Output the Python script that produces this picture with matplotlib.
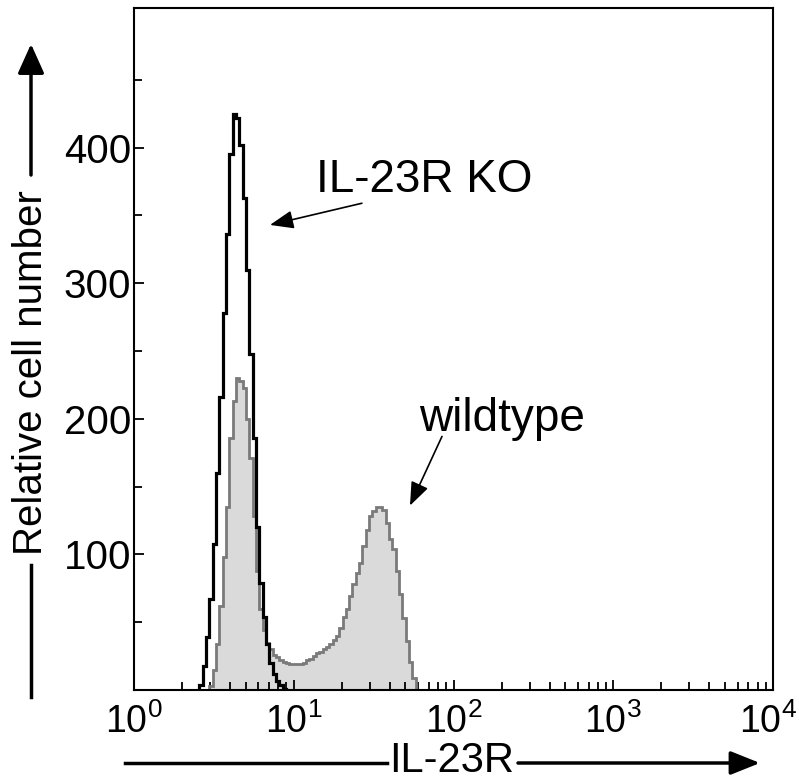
import numpy as np
import matplotlib
matplotlib.use("Agg")
import matplotlib.pyplot as plt
from matplotlib.ticker import FixedLocator, LogLocator, NullFormatter, FixedFormatter
from matplotlib.patches import FancyArrowPatch
from matplotlib.lines import Line2D
from matplotlib.transforms import ScaledTranslation

plt.rcParams['font.family'] = ['Liberation Sans', 'DejaVu Sans']
plt.rcParams['mathtext.default'] = 'regular'

# ---------------- data ----------------
channels_per_decade = 48
ko_first_channel = 20
ko_counts = [4, 18, 39, 67, 108, 160, 216, 278, 336, 395,
             425, 422, 402, 363, 310, 248, 186, 120, 79, 54,
             34, 20, 12, 7, 4, 1]
wt_first_channel = 23
wt_counts = [3, 15, 34, 62, 98, 135, 186, 213, 230, 228,
             223, 200, 171, 128, 88, 60, 44, 35, 30, 26,
             24, 22, 21, 20, 19.5, 19, 19, 19, 20, 22,
             23, 25, 27, 28, 30, 32, 34, 37, 40, 46,
             54, 60, 69, 78, 86, 94, 106, 118, 128, 132,
             135, 135, 133, 123, 111, 104, 88, 71, 53, 36,
             21, 9]
x_tick_values = [1, 10, 100, 1000, 10000]
x_tick_labels = ['$10^{0}$', '$10^{1}$', '$10^{2}$', '$10^{3}$', '$10^{4}$']
y_tick_values = [100, 200, 300, 400]
y_tick_labels = ['100', '200', '300', '400']
y_minor_values = [50, 150, 250, 350, 450]
ko_label = 'IL-23R KO'
wt_label = 'wildtype'
x_label = 'IL-23R'
y_label = 'Relative cell number'

# ---------------- layout ----------------
W, H = 799, 780
CH_OFFSET = -0.35


def fx(x):
    return x / W


def fy(y):
    return 1 - y / H


def edges_for(first, n):
    ch = np.arange(first, first + n + 1) + CH_OFFSET
    return 10 ** (ch / channels_per_decade)


fig = plt.figure(figsize=(W / 100, H / 100), dpi=100)
ax = fig.add_axes([fx(134), fy(690), (773 - 134) / W, (690 - 8) / H])

wt_edges = edges_for(wt_first_channel, len(wt_counts))
ko_edges = edges_for(ko_first_channel, len(ko_counts))

ax.stairs(wt_counts, wt_edges, fill=True, color='#dadada', zorder=1)
ax.stairs(wt_counts, wt_edges, color='#7a7a7a', lw=2.0, zorder=2)
ax.stairs(ko_counts, ko_edges, color='black', lw=2.3, zorder=3)

ax.set_xscale('log')
ax.set_xlim(1, 10000)
ax.set_ylim(0, 503)

ax.xaxis.set_major_locator(FixedLocator(x_tick_values))
ax.xaxis.set_major_formatter(FixedFormatter(x_tick_labels))
ax.xaxis.set_minor_locator(LogLocator(base=10, subs=np.arange(2, 10)))
ax.xaxis.set_minor_formatter(NullFormatter())
ax.yaxis.set_major_locator(FixedLocator(y_tick_values))
ax.yaxis.set_major_formatter(FixedFormatter(y_tick_labels))
ax.yaxis.set_minor_locator(FixedLocator(y_minor_values))

ax.tick_params(which='both', direction='in', width=1.3)
ax.tick_params(axis='y', labelsize=29)
ax.tick_params(axis='x', labelsize=27)
ax.tick_params(which='major', length=7.5)
ax.tick_params(which='minor', length=5.5)
ax.tick_params(axis='y', which='major', pad=2)
ax.tick_params(axis='x', which='major', pad=10)
ax.tick_params(top=False, right=False)
for s in ax.spines.values():
    s.set_linewidth(1.5)

fig.canvas.draw()
xlabels = ax.get_xticklabels()
xlabels[-1].set_transform(xlabels[-1].get_transform()
                          + ScaledTranslation(-5 / 100, 0, fig.dpi_scale_trans))

# annotations
ax.text(66, 367, ko_label, fontsize=33, ha='center', va='baseline')
ax.annotate('', xy=(7.1, 343), xytext=(26.7, 359),
            arrowprops=dict(arrowstyle='-|>,head_length=0.9,head_width=0.35',
                            lw=1.2, color='black', mutation_scale=16,
                            shrinkA=0, shrinkB=0))
ax.text(200, 191, wt_label, fontsize=33, ha='center', va='baseline')
ax.annotate('', xy=(53.4, 136), xytext=(84.7, 187),
            arrowprops=dict(arrowstyle='-|>,head_length=0.9,head_width=0.35',
                            lw=1.2, color='black', mutation_scale=16,
                            shrinkA=0, shrinkB=0))

# axis labels with arrows
fig.text(fx(31), fy(373), y_label, rotation=90, fontsize=29,
         ha='center', va='center')
fig.add_artist(Line2D([fx(31), fx(31)], [fy(697), fy(565)],
                      transform=fig.transFigure, color='black', lw=2.5))
fig.add_artist(FancyArrowPatch((fx(31), fy(175)), (fx(31), fy(44)),
                               transform=fig.transFigure,
                               arrowstyle='-|>,head_length=1.0,head_width=0.45',
                               mutation_scale=18, lw=2.5, color='black',
                               shrinkA=0, shrinkB=0))

fig.text(fx(452), fy(772), x_label, fontsize=30, ha='center', va='baseline')
fig.add_artist(Line2D([fx(125), fx(387)], [fy(763), fy(763)],
                      transform=fig.transFigure, color='black', lw=2.5))
fig.add_artist(FancyArrowPatch((fx(518), fy(763)), (fx(760), fy(763)),
                               transform=fig.transFigure,
                               arrowstyle='-|>,head_length=1.0,head_width=0.4',
                               mutation_scale=18, lw=2.5, color='black',
                               shrinkA=0, shrinkB=0))

fig.savefig('out.png', dpi=100)
